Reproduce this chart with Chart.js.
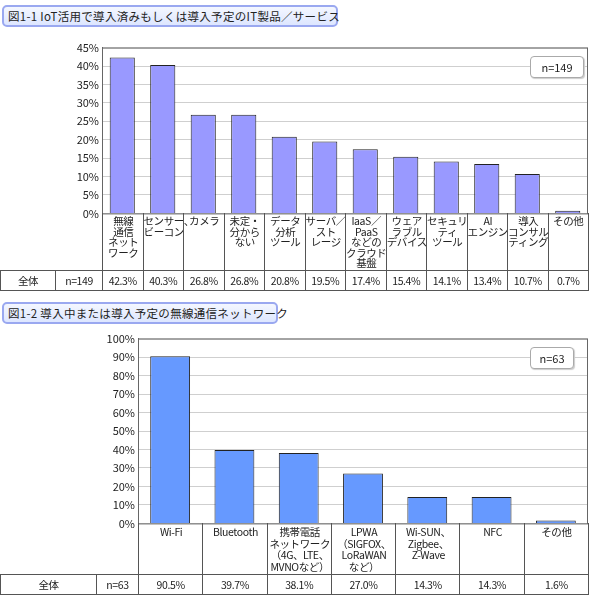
<!DOCTYPE html>
<html>
<head>
<meta charset="utf-8">
<script src="https://cdn.jsdelivr.net/npm/chart.js@4"></script>
<style>
  body { margin: 0; background: #fff; font-family: "Noto Sans CJK JP", sans-serif; color: #222; }
  #wrap { position: relative; width: 590px; height: 609px; overflow: hidden; }
  .ttl { position: absolute; left: 2px; height: 22px; line-height: 19px; padding-left: 4px; font-size: 11.5px; white-space: nowrap;
         letter-spacing: 0.3px; border: 2px solid #9aa8f0; border-radius: 5px; background: linear-gradient(#f4f7ff, #dde6ff); box-sizing: border-box; }
  .nbox { position: absolute; font-size: 11px; border: 1px solid #aaa; border-radius: 4px; background: #fff;
          text-align: center; line-height: 20px; box-shadow: 1px 1px 1px #ccc; }
  .cell { position: absolute; box-sizing: border-box; font-size: 10.5px; text-align: center; line-height: 10.5px;
          white-space: nowrap; letter-spacing: -0.4px; overflow: visible; }
  canvas { position: absolute; }
</style>
</head>
<body>
<div id="wrap">
  <div class="ttl" style="top:5px;width:336px;">図1-1 IoT活用で導入済みもしくは導入予定のIT製品／サービス</div>
  <div class="ttl" style="top:302px;width:276px;">図1-2 導入中または導入予定の無線通信ネットワーク</div>
  <div style="position:absolute;left:0;top:38px;width:590px;height:185px;"><canvas id="c1"></canvas></div>
  <div style="position:absolute;left:0;top:329px;width:590px;height:204px;"><canvas id="c2"></canvas></div>
</div>
<script>
const labels1 = [["無線","通信","ネット","ワーク"],["センサー、","ビーコン"],["カメラ"],["未定・","分から","ない"],["データ","分析","ツール"],["サーバ／","スト","レージ"],["IaaS／","PaaS","などの","クラウド","基盤"],["ウェア","ラブル","デバイス"],["セキュリ","ティ","ツール"],["AI","エンジン"],["導入","コンサル","ティング"],["その他"]];
const values1 = [42.3, 40.3, 26.8, 26.8, 20.8, 19.5, 17.4, 15.4, 14.1, 13.4, 10.7, 0.7];
const n1 = "n=149";

const labels2 = [["Wi-Fi"],["Bluetooth"],["携帯電話","ネットワーク","（4G、LTE、","MVNOなど）"],["LPWA","（SIGFOX、","LoRaWAN","など）"],["Wi-SUN、","Zigbee、","Z-Wave"],["NFC"],["その他"]];
const values2 = [90.5, 39.7, 38.1, 27.0, 14.3, 14.3, 1.6];
const n2 = "n=63";

const wrap = document.getElementById("wrap");
function cell(x, y, w, h, html, style) {
  const d = document.createElement("div");
  d.className = "cell";
  d.style.cssText = `left:${x}px;top:${y}px;width:${w}px;height:${h}px;` + (style || "");
  d.innerHTML = html;
  wrap.appendChild(d);
}

function build(id, labels, values, n, opt) {
  const chart = new Chart(document.getElementById(id), {
    type: "bar",
    data: {
      labels: labels,
      datasets: [{ data: values, backgroundColor: opt.color, borderColor: "#222", borderWidth: 1,
                   barPercentage: 0.62, categoryPercentage: 1 }]
    },
    options: {
      responsive: true, maintainAspectRatio: false, animation: false,
      layout: { padding: { top: 0, right: 2, bottom: 3 } },
      plugins: { legend: { display: false }, tooltip: { enabled: false } },
      scales: {
        x: { display: false },
        y: {
          min: 0, max: opt.max,
          ticks: { stepSize: opt.step, color: "#222", font: { size: 11, family: "Noto Sans CJK JP" }, callback: v => v + "%" },
          grid: { color: "#cfcfcf", drawTicks: false },
          border: { color: "#666" },
          afterFit: s => { s.width = opt.left; }
        }
      }
    },
    plugins: [{
      id: "frame",
      afterDraw(c) {
        const a = c.chartArea, ctx = c.ctx;
        ctx.save(); ctx.strokeStyle = "#666"; ctx.lineWidth = 1;
        ctx.strokeRect(a.left + 0.5, a.top + 0.5, a.right - a.left - 1, a.bottom - a.top);
        ctx.restore();
      }
    }]
  });
  const a = chart.chartArea, xs = chart.scales.x;
  const top = opt.canvasTop + a.bottom;
  const w = (a.right - a.left) / labels.length;
  labels.forEach((l, i) => {
    const x = xs.getPixelForValue(i) - w / 2;
    cell(x, top, w + 1, opt.labelH, l.join("<br>"), `border-left:1px solid #555;padding-top:3px;line-height:${opt.lh}px;` + (i === labels.length - 1 ? "border-right:1px solid #555;" : ""));
    cell(x, top + opt.labelH, w + 1, 21, values[i].toFixed(1) + "%", "border:1px solid #555;line-height:19px;");
  });
  cell(0, top + opt.labelH, opt.c1 + 1, 21, "全体", "border:1px solid #555;line-height:19px;");
  cell(opt.c1, top + opt.labelH, a.left - opt.c1 + 1, 21, n, "border:1px solid #555;line-height:19px;");
  const nb = document.createElement("div");
  nb.className = "nbox"; nb.textContent = n;
  nb.style.cssText = `left:${a.right - 58}px;top:${opt.canvasTop + a.top + 8}px;width:${opt.nw}px;height:20px;`;
  wrap.appendChild(nb);
}

build("c1", labels1, values1, n1, { color: "#9999ff", max: 45, step: 5, left: 102, canvasTop: 38, labelH: 57, c1: 55, nw: 52, lh: 10.5 });
build("c2", labels2, values2, n2, { color: "#6699ff", max: 100, step: 10, left: 138, canvasTop: 329, labelH: 51, c1: 96, nw: 42, lh: 11.5 });
</script>
</body>
</html>
